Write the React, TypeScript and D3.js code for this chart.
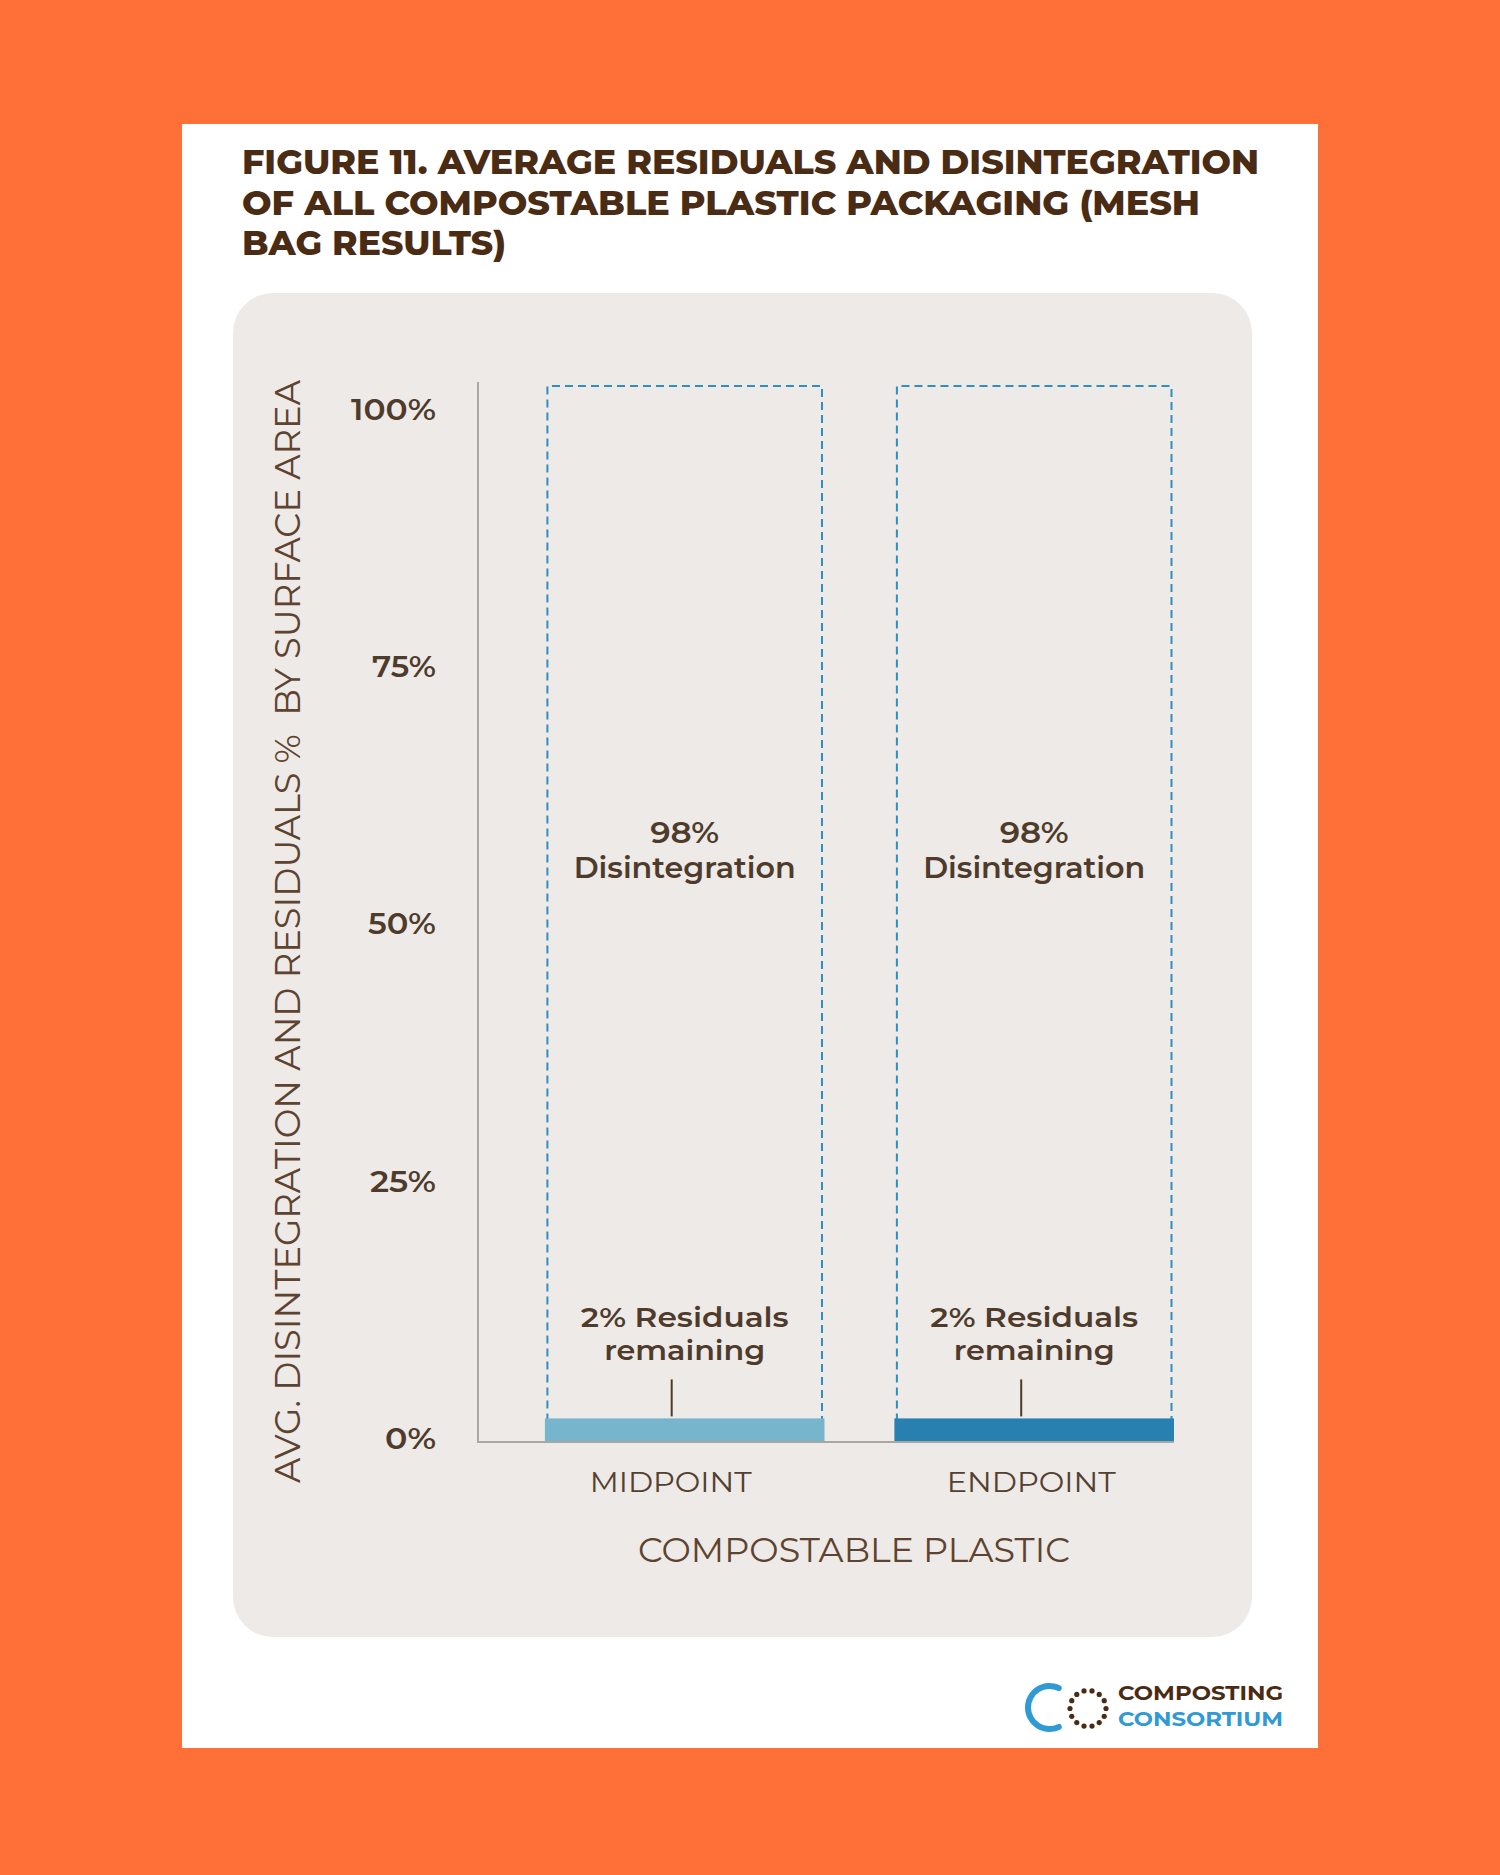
import React from 'react';
import * as d3 from 'd3';

// ---------- data ----------
const categories = ['MIDPOINT', 'ENDPOINT'];
const residuals = [2, 2];
const disintegration = [98, 98];
const barColors = ['#77b5cd', '#2780af'];
const yTicks = [0, 25, 50, 75, 100];
const yTickLabels = ['0%', '25%', '50%', '75%', '100%'];
const titleLines = [
  'FIGURE 11. AVERAGE RESIDUALS AND DISINTEGRATION',
  'OF ALL COMPOSTABLE PLASTIC PACKAGING (MESH',
  'BAG RESULTS)',
];
const yAxisTitle = 'AVG. DISINTEGRATION AND RESIDUALS %  BY SURFACE AREA';
const xAxisTitle = 'COMPOSTABLE PLASTIC';
const logoLines = ['COMPOSTING', 'CONSORTIUM'];

// ---------- layout ----------
const W = 1500;
const H = 1875;
const FONT = "Montserrat, 'Noto Sans', 'Open Sans', sans-serif";
const BROWN = '#4a2b14';
const TEXT = '#4f3b2b';
const AXIS_MAX = 102.6;

const titleWidths = [1017, 958, 264];
const tickWidths = [51, 66, 68, 64, 85];
const catWidths = [162, 169];
const catNudge = [-14, -3];

export default function App() {
  const y = d3.scaleLinear().domain([0, AXIS_MAX]).range([1442, 386]);
  const x = d3
    .scaleBand<string>()
    .domain(categories)
    .range([478, 1174])
    .paddingInner(0.2)
    .paddingOuter(0.0957)
    .align(1);
  const bw = x.bandwidth();

  const arc = d3
    .arc()
    .innerRadius(18.5)
    .outerRadius(24.5)
    .cornerRadius(3)
    .startAngle(Math.PI / 2 + 0.98)
    .endAngle(Math.PI / 2 + 2 * Math.PI - 0.98);
  const dots = d3.range(14).map((i) => (i / 14) * 2 * Math.PI);

  return (
    <svg
      width={W}
      height={H}
      viewBox={`0 0 ${W} ${H}`}
      style={{ position: 'absolute', left: 0, top: 0, display: 'block' }}
      fontFamily={FONT}
    >
      <rect x={0} y={0} width={W} height={H} fill="#ff7038" />
      <rect x={182} y={124} width={1136} height={1624} fill="#ffffff" />

      {/* title */}
      {titleLines.map((t, i) => (
        <text
          key={t}
          x={242}
          y={174 + i * 40.5}
          fontSize={34}
          fontWeight={800}
          fill={BROWN}
          textLength={titleWidths[i]}
          lengthAdjust="spacingAndGlyphs"
        >
          {t}
        </text>
      ))}

      {/* panel */}
      <rect x={233} y={293} width={1019} height={1344} rx={40} ry={40} fill="#edeae7" />

      {/* y axis title */}
      <text
        transform={`translate(300, ${(1483 + 380) / 2}) rotate(-90)`}
        textAnchor="middle"
        fontSize={36}
        fontWeight={400}
        fill="#5e4330"
        textLength={1103}
        lengthAdjust="spacingAndGlyphs"
        style={{ whiteSpace: 'pre' }}
      >
        {yAxisTitle}
      </text>

      {/* y tick labels */}
      {yTicks.map((v, i) => (
        <text
          key={v}
          x={436}
          y={y(v) + 7}
          textAnchor="end"
          fontSize={30}
          fontWeight={600}
          fill={TEXT}
          textLength={tickWidths[i]}
          lengthAdjust="spacingAndGlyphs"
        >
          {yTickLabels[i]}
        </text>
      ))}

      {/* bars */}
      {categories.map((c, i) => {
        const x0 = x(c)!;
        const cx = x0 + bw / 2;
        const barTop = y(residuals[i]);
        const boxTop = y(AXIS_MAX);
        const labelY = y(residuals[i] + disintegration[i] * 0.57);
        return (
          <g key={c}>
            <path
              d={`M${x0 + 2.5},${barTop} V${boxTop} H${x0 + bw - 2.5} V${barTop}`}
              fill="none"
              stroke="#2e8fc0"
              strokeWidth={2}
              strokeDasharray="8 5"
            />
            <rect x={x0} y={barTop - 3} width={bw} height={y(0) - barTop + 3} fill={barColors[i]} />
            <line x1={cx - 13} x2={cx - 13} y1={barTop - 42} y2={barTop - 5} stroke="#4f3b2b" strokeWidth={2} />
            <text x={cx} y={barTop - 94} textAnchor="middle" fontSize={27} fontWeight={600} fill={TEXT}
              textLength={208} lengthAdjust="spacingAndGlyphs">
              {`${residuals[i]}% Residuals`}
            </text>
            <text x={cx} y={barTop - 61} textAnchor="middle" fontSize={27} fontWeight={600} fill={TEXT}
              textLength={161} lengthAdjust="spacingAndGlyphs">
              remaining
            </text>
            <text x={cx} y={labelY - 3} textAnchor="middle" fontSize={29} fontWeight={600} fill={TEXT}
              textLength={69} lengthAdjust="spacingAndGlyphs">
              {`${disintegration[i]}%`}
            </text>
            <text x={cx} y={labelY + 32} textAnchor="middle" fontSize={29} fontWeight={600} fill={TEXT}
              textLength={222} lengthAdjust="spacingAndGlyphs">
              Disintegration
            </text>
            <text x={cx + catNudge[i]} y={1492} textAnchor="middle" fontSize={28} fontWeight={400} fill="#54402f"
              textLength={catWidths[i]} lengthAdjust="spacingAndGlyphs">
              {c}
            </text>
          </g>
        );
      })}

      {/* axes */}
      <line x1={478} x2={478} y1={y(AXIS_MAX) - 4} y2={y(0)} stroke="#aaa6a2" strokeWidth={2} />
      <line x1={477} x2={1174} y1={y(0)} y2={y(0)} stroke="#aaa6a2" strokeWidth={2} />

      {/* x axis title */}
      <text x={854} y={1562} textAnchor="middle" fontSize={33} fontWeight={400} fill="#5e4330"
        textLength={432} lengthAdjust="spacingAndGlyphs">
        {xAxisTitle}
      </text>

      {/* logo */}
      <path d={arc({} as any) || ''} transform="translate(1049.5,1707.5)" fill="#2f9ad3" />
      {dots.map((a, i) => (
        <circle key={i} cx={1088 + 18 * Math.cos(a)} cy={1708.5 + 18 * Math.sin(a)} r={2.6} fill="#4a2b14" />
      ))}
      <text x={1118} y={1700} fontSize={20} fontWeight={700} fill={BROWN} textLength={165} lengthAdjust="spacingAndGlyphs">
        {logoLines[0]}
      </text>
      <text x={1118} y={1726} fontSize={20} fontWeight={700} fill="#2f9ad3" textLength={165} lengthAdjust="spacingAndGlyphs">
        {logoLines[1]}
      </text>
    </svg>
  );
}
